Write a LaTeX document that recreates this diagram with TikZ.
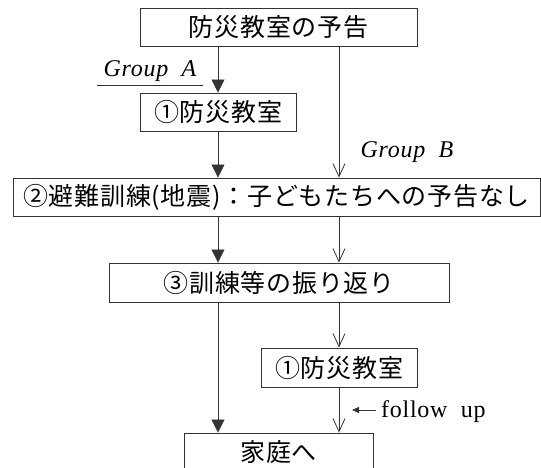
\documentclass[tikz,border=0pt]{standalone}
\usepackage{fontspec}
\setmainfont{Liberation Serif}
\newfontfamily\jp[LetterSpace=3]{Noto Sans CJK JP}
\newfontfamily\lat[LetterSpace=3,WordSpace=2]{Liberation Serif}
\usetikzlibrary{arrows.meta}
\begin{document}
\begin{tikzpicture}[x=1pt,y=-1pt,
  box/.style={draw=black!80,line width=0.9pt,inner sep=0pt,font=\jp\fontsize{25}{29}\selectfont},
  conn/.style={draw=black!80,line width=0.8pt},
  fillarr/.style={conn,-{Triangle[width=13pt,length=13pt]}},
  openarr/.style={conn,-{Straight Barb[width=12pt,length=13pt,line width=0.8pt]}},
  lbl/.style={inner sep=0pt,font=\lat\fontsize{24}{28}\selectfont}]
\useasboundingbox (0,0) rectangle (541,468);
\clip (0,0) rectangle (541,468);
\node[box,minimum width=277pt,minimum height=38pt] (b1) at (278.5,27) {防災教室の予告};
\node[box,minimum width=156pt,minimum height=38pt] (b2) at (218,112) {①防災教室};
\node[box,minimum width=527pt,minimum height=38pt] (b3) at (276.5,197) {②避難訓練(地震)：子どもたちへの予告なし};
\node[box,minimum width=340pt,minimum height=39pt] (b4) at (279,282.5) {③訓練等の振り返り};
\node[box,minimum width=156pt,minimum height=39pt] (b5) at (339,367.5) {①防災教室};
\node[box,minimum width=189pt,minimum height=38pt] (b6) at (278.5,452) {家庭へ};
% left path
\draw[fillarr] (b2 |- b1.south) -- (b2.north);
\draw[fillarr] (b2.south) -- (b2 |- b3.north);
\draw[fillarr] (b2 |- b3.south) -- (b2 |- b4.north);
\draw[fillarr] (b2 |- b4.south) -- (b2 |- b6.north);
% right path
\draw[openarr] (b5 |- b1.south) -- (b5 |- b3.north);
\draw[openarr] (b5 |- b3.south) -- (b5 |- b4.north);
\draw[openarr] (b5 |- b4.south) -- (b5.north);
\draw[openarr] (b5.south) -- (b5 |- b6.north);
% labels
\node[lbl,anchor=base,font=\lat\itshape\fontsize{24}{28}\selectfont] (ga) at (150,77) {Group A};
\coordinate (ul1) at (97,85);
\coordinate (ul2) at (203,85);
\draw[conn] (ul1) -- (ul2);
\node[lbl,anchor=base,font=\lat\itshape\fontsize{24}{28}\selectfont] (gb) at (407,158) {Group B};
\node[lbl,anchor=base west] (fu) at (381,417) {follow up};
\coordinate (fa) at (352,410);
\draw[conn,-{Triangle[width=6pt,length=7pt]}] (fu.west |- fa) ++(-5,0) coordinate (fs) -- (fa);
\end{tikzpicture}
\end{document}
